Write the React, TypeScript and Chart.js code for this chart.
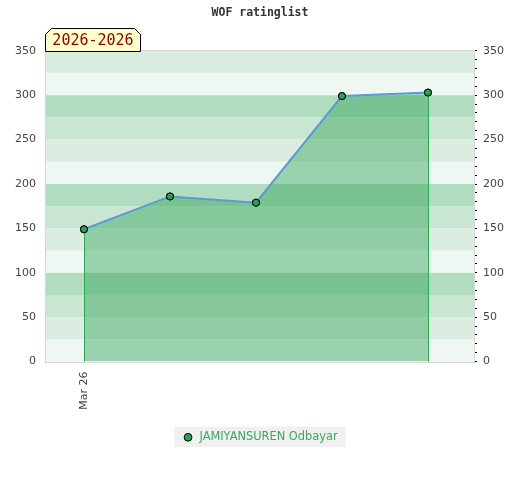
import React, { useEffect, useRef } from "react";
import { Chart, registerables } from "chart.js";

Chart.register(...registerables);

const titleText = "WOF ratinglist";
const periodLabel = "2026-2026";
const playerName = "JAMIYANSUREN Odbayar";
const pointIndex = [0, 1, 2, 3, 4];
const ratings = [149, 186, 179, 299, 303];
const xTickValues = [0];
const xTickLabels = ["Mar 26"];
const yMin = 0;
const yMax = 350;
const yMajorStep = 50;
const yMinorStep = 10;
const bandStep = 25;

const bandColors = ["#dbede1", "#eef7f1", "#b2dcc0", "#c9e6d3"];

const bgPlugin = {
  id: "bands",
  beforeDatasetsDraw(chart: any) {
    const { ctx, chartArea, scales } = chart;
    const y = scales.y;
    ctx.save();
    let k = 0;
    for (let v = yMax; v > yMin; v -= bandStep) {
      const top = y.getPixelForValue(v);
      const bot = y.getPixelForValue(v - bandStep);
      ctx.fillStyle = bandColors[k % 4];
      ctx.fillRect(chartArea.left, top, chartArea.right - chartArea.left, bot - top);
      k++;
    }
    ctx.strokeStyle = "#d6d6d6";
    ctx.lineWidth = 1;
    ctx.strokeRect(
      Math.round(chartArea.left) + 0.5,
      Math.round(chartArea.top) - 0.5,
      Math.round(chartArea.right - chartArea.left),
      Math.round(chartArea.bottom - chartArea.top) + 1
    );
    ctx.restore();
  },
  afterDatasetsDraw(chart: any) {
    const { ctx, chartArea } = chart;
    const meta = chart.getDatasetMeta(0);
    const pts = meta.data;
    if (!pts.length) return;
    ctx.save();
    ctx.strokeStyle = "#2fa653";
    ctx.lineWidth = 1;
    [pts[0], pts[pts.length - 1]].forEach((p: any) => {
      const x = Math.round(p.x) + 0.5;
      ctx.beginPath();
      ctx.moveTo(x, p.y + 4);
      ctx.lineTo(x, chartArea.bottom);
      ctx.stroke();
    });
    pts.forEach((p: any) => p.draw(ctx, chartArea));
    ctx.restore();
  },
  afterDraw(chart: any) {
    const { ctx, chartArea } = chart;
    ctx.save();
    const left = Math.round(chartArea.left);
    const bottom = Math.round(chartArea.top);
    const w = 95;
    const h = 23;
    const c = 6;
    const top = bottom - h;
    ctx.beginPath();
    ctx.moveTo(left + 0.5, bottom + 0.5);
    ctx.lineTo(left + 0.5, top + c + 0.5);
    ctx.lineTo(left + c + 0.5, top + 0.5);
    ctx.lineTo(left + w - c + 0.5, top + 0.5);
    ctx.lineTo(left + w + 0.5, top + c + 0.5);
    ctx.lineTo(left + w + 0.5, bottom + 0.5);
    ctx.closePath();
    ctx.fillStyle = "#ffffcc";
    ctx.fill();
    ctx.strokeStyle = "#000";
    ctx.lineWidth = 1;
    ctx.stroke();
    ctx.fillStyle = "#8b0000";
    ctx.font = "15px 'DejaVu Sans Mono'";
    ctx.textBaseline = "middle";
    ctx.textAlign = "center";
    ctx.fillText(periodLabel, left + w / 2 + 0.5, top + h / 2 + 2);
    ctx.restore();
  },
};

const legendBg = {
  id: "legendBg",
  beforeDraw(chart: any) {
    const lg = chart.legend;
    if (!lg || !lg.legendHitBoxes || !lg.legendHitBoxes.length) return;
    const hb = lg.legendHitBoxes[0];
    const { ctx } = chart;
    ctx.save();
    ctx.fillStyle = "#f0f0f0";
    ctx.fillRect(hb.left - 8, hb.top - 5, hb.width + 16, hb.height + 9);
    ctx.restore();
  },
};

export default function App() {
  const ref = useRef<HTMLCanvasElement>(null);
  useEffect(() => {
    document.body.style.margin = "0";
    const chart = new Chart(ref.current as HTMLCanvasElement, {
      type: "line",
      data: {
        datasets: [
          {
            label: playerName,
            data: pointIndex.map((x, i) => ({ x, y: ratings[i] })),
            borderColor: "#5b9bd5",
            borderWidth: 2,
            backgroundColor: "rgba(40,160,80,0.42)",
            fill: "origin",
            tension: 0,
            pointRadius: 3.5,
            pointBorderWidth: 1,
            pointBackgroundColor: "#2e9e5a",
            pointBorderColor: "#000",
            pointStyle: "circle",
          },
        ],
      },
      options: {
        animation: false,
        responsive: false,
        maintainAspectRatio: false,
        layout: { padding: { left: 0, right: 0, top: 0, bottom: 27 } },
        plugins: {
          title: {
            display: true,
            text: titleText,
            color: "#333",
            font: { family: "'DejaVu Sans Mono'", size: 11.5, weight: "bold" },
            padding: { top: 6, bottom: 31 },
          },
          legend: {
            position: "bottom",
            labels: {
              usePointStyle: true,
              boxWidth: 14,
              boxHeight: 5.5,
              color: "#3aa85c",
              font: { family: "'DejaVu Sans'", size: 11.4 },
              padding: 10,
            },
          },
          tooltip: { enabled: false },
        },
        scales: {
          x: {
            type: "linear",
            min: -0.453,
            max: 4.535,
            grid: { display: false, drawTicks: false },
            border: { display: false },
            afterBuildTicks(scale: any) {
              scale.ticks = xTickValues.map((v) => ({ value: v }));
            },
            afterFit(scale: any) {
              scale.height = 60;
            },
            ticks: {
              minRotation: 90,
              maxRotation: 90,
              color: "#444",
              font: { family: "'DejaVu Sans'", size: 11 },
              padding: 10,
              callback: (v: any) => {
                const i = xTickValues.indexOf(v);
                return i >= 0 ? xTickLabels[i] : "";
              },
            },
          },
          y: {
            position: "left",
            min: yMin,
            max: yMax,
            grid: { display: false, drawTicks: false },
            border: { display: false },
            ticks: {
              stepSize: yMajorStep,
              color: "#444",
              font: { family: "'DejaVu Sans'", size: 11 },
              padding: 9,
            },
            afterFit(scale: any) {
              scale.width = 45;
            },
          },
          y2: {
            position: "right",
            min: yMin,
            max: yMax,
            grid: {
              display: true,
              drawOnChartArea: false,
              drawTicks: true,
              tickLength: 3,
              color: "#000",
            },
            border: { display: false },
            ticks: {
              stepSize: yMinorStep,
              autoSkip: false,
              color: "#444",
              font: { family: "'DejaVu Sans'", size: 11 },
              padding: 6,
              callback: (v: any) => (v % yMajorStep === 0 ? String(v) : ""),
            },
            afterFit(scale: any) {
              scale.width = 46;
            },
          },
        },
      },
      plugins: [bgPlugin, legendBg],
    } as any);
    return () => chart.destroy();
  }, []);
  return (
    <div style={{ position: "fixed", left: 0, top: 0, width: 520, height: 480 }}>
      <canvas ref={ref} width={520} height={480} style={{ width: 520, height: 480 }} />
    </div>
  );
}
